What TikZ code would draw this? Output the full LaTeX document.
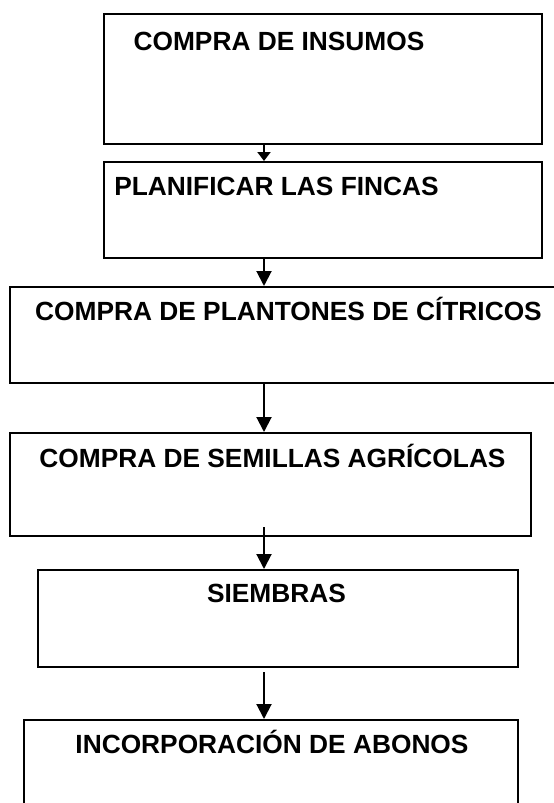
\documentclass[tikz,border=0pt]{standalone}
\usepackage{fontspec}
\setmainfont{Liberation Sans}
\usetikzlibrary{arrows.meta,calc}
\begin{document}
\begin{tikzpicture}[x=1pt,y=-1pt,
  box/.style={draw, line width=2pt, inner sep=0pt, anchor=north west},
  lbl/.style={font=\bfseries\fontsize{26.3}{30}\selectfont, anchor=base, inner sep=0pt},
  arr/.style={line width=2pt, -{Triangle[length=15pt,width=15pt]}},
  arrsmall/.style={line width=2pt, -{Triangle[length=9pt,width=13pt]}}]
\useasboundingbox (0,0) rectangle (554,803);
\node[box, minimum width=438pt, minimum height=130pt] (b1) at (103,13) {};
\node[box, minimum width=438pt, minimum height=96pt]  (b2) at (103,161) {};
\node[box, minimum width=561pt, minimum height=96pt]  (b3) at (9,286) {};
\node[box, minimum width=521pt, minimum height=103pt] (b4) at (9,432) {};
\node[box, minimum width=480pt, minimum height=97pt]  (b5) at (37,569) {};
\node[box, minimum width=494pt, minimum height=101pt] (b6) at (23,719) {};
\node[lbl] (t1) at (279,50) {COMPRA DE INSUMOS};
\node[lbl] (t2) at (276.5,195) {PLANIFICAR LAS FINCAS};
\node[lbl] (t3) at (288.5,320) {COMPRA DE PLANTONES DE CÍTRICOS};
\node[lbl] (t4) at (272.5,467) {COMPRA DE SEMILLAS AGRÍCOLAS};
\node[lbl] (t5) at (276.5,602) {SIEMBRAS};
\node[lbl] (t6) at (272,753) {INCORPORACIÓN DE ABONOS};
\coordinate (ax) at (264,0);
\draw[arrsmall] (b1.south -| ax) -- (b2.north -| ax);
\draw[arr] (b2.south -| ax) -- (b3.north -| ax);
\draw[arr] (b3.south -| ax) -- (b4.north -| ax);
\draw[arr] ($(b4.south -| ax)+(0,-10)$) -- (b5.north -| ax);
\draw[arr] ($(b5.south -| ax)+(0,4)$) -- (b6.north -| ax);
\end{tikzpicture}
\end{document}
